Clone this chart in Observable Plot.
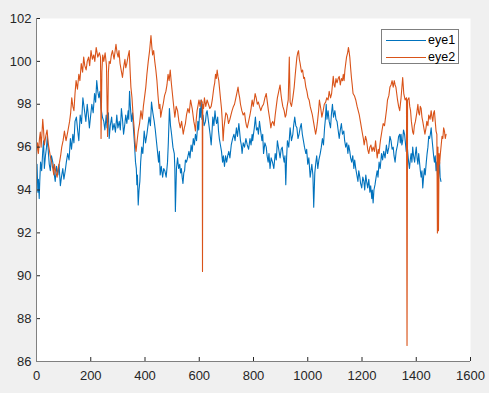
<!DOCTYPE html>
<html><head><meta charset="utf-8">
<script src="https://cdn.jsdelivr.net/npm/d3@7"></script>
<script src="https://cdn.jsdelivr.net/npm/@observablehq/plot@0.6"></script>
<style>
body{margin:0;background:#f0f0f0;}
#wrap{position:relative;width:489px;height:393px;overflow:hidden;}
.legend{position:absolute;left:381px;top:29px;width:76px;height:33px;background:#fff;border:1px solid #7f7f7f;font:12.5px "Liberation Sans",Arial,sans-serif;color:#000;}
.legend .row{position:absolute;left:0;height:16px;width:76px;}
.legend .sw{position:absolute;left:4px;top:8px;width:40px;height:1px;}
.legend .lab{position:absolute;left:46px;top:0;line-height:16px;}
</style></head>
<body><div id="wrap"></div>
<script>
const seriesNames = ["eye1","eye2"];
const seriesColors = ["#0072BD","#D95319"];
const xTicks = [0,200,400,600,800,1000,1200,1400,1600];
const yTicks = [86,88,90,92,94,96,98,100,102];

const eye1X = [0,5,10,15,23,29,37,44,51,60,69,79,88,97,106,115,125,134,142,152,161,171,177,187,195,204,214,222,230,238,248,257,262,268,277,286,296,305,313,321,329,338,343,350,358,365,370,375,381,388,397,407,415,424,434,442,450,456,465,473,483,490,498,508,512,520,528,534,540,546,553,562,570,578,586,595,602,607,614,623,629,637,644,650,658,664,671,678,686,693,701,709,718,728,737,746,752,758,767,777,787,795,800,807,815,822,831,837,847,854,861,870,880,888,898,906,913,919,925,935,945,952,960,968,976,984,993,1000,1009,1015,1022,1030,1037,1046,1054,1062,1068,1075,1084,1091,1100,1108,1116,1124,1133,1140,1148,1155,1162,1170,1177,1185,1192,1199,1207,1214,1221,1229,1236,1241,1248,1256,1263,1272,1280,1290,1299,1307,1315,1322,1331,1339,1344,1350,1357,1363,1369,1375,1381,1387,1394,1400,1406,1412,1418,1424,1430,1437,1443,1449,1455,1461,1467,1473,1480,1486,1491];
const eye1Y = [94.6,93.9,93.6,95.3,95.8,95.0,96.0,95.7,94.9,95.3,94.4,94.7,94.2,95.0,94.9,95.7,96.4,96.6,97.2,96.75,97.5,98.3,97.7,98.0,96.9,98.0,98.5,99.1,98.3,97.8,97.2,97.5,97.2,96.4,97.4,97.1,97.5,97.2,97.8,96.6,97.5,97.7,98.6,97.2,96.75,95.3,94.25,93.3,94.4,96.0,96.75,96.6,97.4,98.1,97.2,96.3,95.3,94.7,94.6,94.9,95.3,97.8,96.6,95.7,93.0,95.5,95.2,95.0,94.3,94.9,95.3,95.8,96.1,96.4,96.6,97.2,97.8,98.2,97.5,97.2,97.7,96.9,96.1,97.4,97.7,97.1,96.75,96.1,95.3,95.1,95.3,95.8,96.1,96.6,96.9,97.1,96.3,95.7,96.0,96.1,96.4,96.6,96.6,97.4,96.9,97.2,96.3,95.7,96.0,95.3,95.0,95.3,95.7,96.3,95.5,96.0,95.3,94.25,96.3,96.9,96.6,97.4,96.9,96.6,97.1,96.3,95.7,95.2,94.6,95.2,93.2,95.3,95.0,95.7,96.4,96.9,98.0,97.7,96.9,98.0,97.7,97.2,96.4,97.1,96.75,96.0,95.7,95.8,95.3,95.0,95.0,94.4,94.6,94.1,94.4,94.7,94.1,93.9,93.6,93.4,94.25,94.9,95.3,95.7,95.8,96.1,96.0,96.3,96.0,95.3,96.1,96.6,96.6,96.3,96.6,95.8,95.7,95.0,95.7,96.0,95.3,96.0,95.2,95.3,94.6,94.1,95.0,95.3,96.0,96.4,96.9,96.0,95.3,94.9,94.25,95.3,94.4];
// in-between readings (short-term wiggle of eye1)
const eye1MidX = [2,7,12,19,26,33,40,47,55,64,74,83,92,101,110,120,129,138,147,156,166,174,182,191,199,209,218,226,234,243,252,260,265,272,281,291,300,309,317,325,333,340,346,354,361,368,372,378,384,392,402,411,420,429,438,446,453,460,469,478,486,494,503,510,516,524,531,537,543,549,557,566,574,582,590,598,604,610,618,626,633,640,647,654,661,668,674,682,689,697,705,713,723,732,741,749,755,762,772,782,791,797,803,811,818,826,834,842,850,857,865,875,884,893,902,909,916,922,930,940,948,956,964,972,980,988,996,1004,1012,1019,1026,1033,1041,1050,1058,1065,1071,1079,1087,1095,1104,1112,1120,1128,1136,1144,1151,1158,1166,1173,1181,1188,1195,1203,1210,1217,1225,1232,1238,1244,1252,1259,1267,1276,1285,1294,1303,1311,1318,1326,1335,1341,1347,1353,1360,1366,1372,1378,1384,1390,1397,1403,1409,1415,1421,1427,1433,1440,1446,1452,1458,1464,1470,1476,1483,1488];
const eye1MidY = [95.2,94.5,94.4,94.9,96.3,95.6,96.5,95.2,95.6,94.9,95.1,95.2,94.6,94.5,95.3,95.4,95.9,96.2,97.4,96.3,97.1,98.0,97.2,97.5,97.4,97.6,98.1,98.6,98.6,97.4,96.8,96.9,97.6,97.0,96.8,96.7,96.9,96.8,97.3,97.0,97.1,97.3,97.9,97.6,96.2,95.0,94.7,94.0,95.3,95.7,96.2,97.0,97.0,97.6,96.8,95.8,95.8,95.1,95.0,94.6,96.2,97.0,96.0,95.0,95.0,95.0,94.8,94.6,94.8,95.4,95.5,95.5,95.8,96.1,96.3,96.8,97.4,97.3,97.0,97.6,97.3,96.6,96.7,97.0,97.3,97.4,96.4,95.8,95.6,95.6,95.6,95.5,96.4,96.3,96.5,96.7,96.1,96.2,96.4,95.9,96.1,96.3,96.9,96.8,96.6,96.8,96.6,96.2,95.6,95.7,95.5,95.0,95.4,95.9,95.9,95.6,95.6,95.5,96.0,96.3,97.0,97.0,96.4,96.9,96.6,96.0,95.9,95.5,94.9,94.7,94.8,95.6,95.4,96.0,96.1,97.3,97.3,97.2,97.5,97.4,97.3,96.8,96.8,96.6,96.3,96.2,96.1,95.5,95.6,95.4,94.7,94.9,94.3,94.6,94.0,94.4,94.5,94.2,94.0,94.0,94.6,94.6,95.0,95.4,95.5,95.7,96.5,95.9,95.6,95.8,96.5,96.2,96.1,96.8,96.2,96.2,95.3,95.4,95.3,95.6,95.7,95.5,95.7,94.9,94.9,94.6,94.7,95.7,96.5,96.6,96.4,95.6,95.6,95.3,94.8,94.6];

const eye2X = [0,4,11,17,23,29,39,48,56,64,69,76,85,93,103,109,122,130,138,146,156,165,174,183,192,201,211,220,232,236,238,241,244,253,258,262,265,272,280,293,301,308,317,326,333,342,348,356,363,367,375,385,394,403,412,422,428,436,444,452,458,467,477,485,493,501,510,520,530,541,549,558,568,574,580,586,592,599,607,611,612,613,619,629,639,648,654,660,666,672,678,685,688,694,703,713,721,730,740,746,752,762,771,777,787,795,803,810,818,827,837,847,855,864,871,880,888,898,904,913,920,928,932,935,945,954,960,966,972,981,988,997,1005,1013,1021,1029,1036,1043,1052,1061,1070,1079,1088,1094,1100,1108,1116,1124,1131,1137,1143,1150,1155,1161,1167,1177,1186,1194,1202,1208,1217,1225,1233,1241,1250,1256,1263,1269,1278,1287,1294,1303,1311,1319,1325,1331,1339,1344,1350,1354,1359,1364,1366,1368,1373,1379,1385,1390,1397,1406,1412,1418,1424,1432,1439,1446,1455,1461,1467,1473,1476,1478,1480,1482,1484,1486,1492,1498,1504,1510];
const eye2Y = [95.6,96.2,96.4,96.0,97.3,96.1,96.8,95.8,95.3,94.7,95.0,94.6,95.3,96.0,96.75,96.3,97.2,98.3,97.7,99.1,99.4,99.9,100.2,99.6,100.2,100.5,100.3,100.65,100.4,100.2,96.4,99.5,100.3,100.4,99.8,96.5,99.5,99.9,100.5,100.8,100.2,99.9,99.25,100.1,99.9,100.5,98.8,97.5,96.3,95.8,96.75,97.7,97.9,98.8,100.0,101.2,100.3,100.0,99.1,97.8,97.4,98.0,98.6,99.4,99.6,98.5,97.4,97.7,96.9,96.6,97.1,97.8,98.2,97.8,97.2,96.75,97.7,98.2,98.2,98.1,90.2,98.0,98.3,98.2,97.8,98.2,98.8,99.4,99.6,99.1,98.3,97.2,96.3,97.2,97.5,97.3,97.7,98.0,98.6,98.5,98.0,97.5,97.2,96.9,97.5,98.2,98.2,98.3,98.1,97.7,98.0,98.5,97.7,96.9,97.2,97.5,98.3,98.9,98.2,97.7,97.5,98.2,100.2,98.1,98.3,99.4,100.2,100.5,99.9,99.6,99.25,98.6,98.2,97.7,97.2,96.6,97.2,98.2,97.4,98.0,98.3,98.6,98.5,99.3,98.8,99.0,99.3,99.2,99.4,99.6,100.2,100.65,100.2,99.25,98.5,98.2,97.7,97.2,96.6,96.1,96.3,95.7,96.1,96.0,96.3,95.5,95.7,96.4,97.1,97.4,98.2,98.8,99.1,99.1,98.8,98.2,97.7,98.3,99.25,98.5,98.2,98.3,86.75,98.2,98.3,97.7,96.9,96.6,97.2,98.0,97.5,97.8,97.2,96.6,97.2,97.5,97.7,97.2,97.7,96.75,96.6,92.0,96.0,92.1,95.7,95.2,96.1,96.4,96.75,96.6];
// in-between readings (short-term wiggle of eye2)
const eye2MidX = [2,7,14,20,26,34,43,52,60,66,72,80,89,98,106,115,126,134,142,151,160,170,178,187,196,206,215,226,248,268,276,286,297,304,312,321,329,337,345,352,360,365,371,380,390,398,407,417,425,432,440,448,455,462,472,481,489,497,505,515,525,535,545,553,563,571,577,583,589,595,603,616,624,634,644,651,657,663,669,675,682,691,698,708,717,726,735,743,749,757,767,774,782,791,799,806,814,822,832,842,851,860,867,876,884,893,901,908,917,924,940,950,957,963,969,977,985,993,1001,1009,1017,1025,1032,1040,1048,1057,1066,1075,1084,1091,1097,1104,1112,1120,1128,1134,1140,1147,1153,1158,1164,1172,1182,1190,1198,1205,1213,1221,1229,1237,1246,1253,1260,1266,1274,1283,1291,1299,1307,1315,1322,1328,1335,1376,1382,1387,1393,1402,1409,1415,1421,1428,1436,1443,1451,1458,1464,1470,1489,1495,1501,1507];
const eye2MidY = [96.0,95.7,96.7,96.6,96.8,96.5,96.2,95.5,95.0,95.2,94.8,95.0,95.6,96.3,96.5,96.7,97.6,97.9,98.5,98.7,99.1,99.5,99.8,100.0,99.8,100.1,100.0,100.2,100.0,100.0,100.3,100.1,100.4,100.5,99.6,99.7,99.7,100.2,99.6,98.3,96.9,96.0,96.3,97.1,97.3,98.3,99.4,100.5,100.7,100.5,99.6,98.4,98.0,97.7,98.4,98.9,99.1,99.0,98.0,97.9,97.2,97.2,96.9,97.5,97.6,98.0,97.5,97.0,97.3,97.9,97.9,97.8,97.9,98.0,97.9,98.5,99.0,99.2,99.3,98.7,97.8,96.9,97.6,97.1,97.5,97.9,98.3,98.8,98.3,97.7,97.6,97.0,97.2,97.8,97.9,98.5,98.0,97.9,97.9,98.3,98.1,97.3,97.1,97.0,97.9,98.6,98.5,97.9,97.4,97.9,97.9,98.8,99.8,100.4,100.1,99.5,99.2,98.8,98.3,97.9,97.5,96.9,96.8,97.7,97.8,97.7,98.1,98.2,98.3,98.9,98.9,99.2,99.2,98.9,99.1,99.1,99.9,100.4,100.4,99.7,98.9,98.4,97.9,97.5,96.9,96.4,96.5,95.9,96.0,95.8,95.8,95.9,95.9,96.1,96.8,97.0,97.8,98.4,98.9,98.8,98.9,98.5,97.9,97.9,97.2,96.7,97.0,97.6,97.6,97.9,97.4,96.9,96.9,97.0,97.3,97.4,97.6,97.2,95.7,96.5,96.9,96.4];

const toRows = (xs, ys, mx, my) =>
  xs.map((x, i) => ({x, y: ys[i]}))
    .concat(mx.map((x, i) => ({x, y: my[i]})))
    .sort((a, b) => a.x - b.x);
const eye1 = toRows(eye1X, eye1Y, eye1MidX, eye1MidY);
const eye2 = toRows(eye2X, eye2Y, eye2MidX, eye2MidY);

const W = 489, H = 393, mL = 36, mR = 19, mT = 18, mB = 32;
const innerW = W - mL - mR, innerH = H - mT - mB;
const axisColor = "#808080", textColor = "#262626", tickLen = 4;

const chart = Plot.plot({
  width: W, height: H,
  marginLeft: mL, marginRight: mR, marginTop: mT, marginBottom: mB,
  style: {background: "transparent", fontFamily: "'Liberation Sans', Arial, sans-serif", fontSize: "13px", color: textColor},
  x: {domain: [0, 1600]},
  y: {domain: [86, 102]},
  marks: [
    Plot.frame({fill: "white", stroke: null}),
    Plot.line(eye1, {x: "x", y: "y", stroke: seriesColors[0], strokeWidth: 1.1}),
    Plot.line(eye2, {x: "x", y: "y", stroke: seriesColors[1], strokeWidth: 1.1}),
    Plot.tickX(xTicks, {x: d => d, stroke: textColor, insetTop: innerH - tickLen}),
    Plot.tickY(yTicks, {y: d => d, stroke: textColor, insetRight: innerW - tickLen}),
    Plot.ruleX([0], {stroke: axisColor}),
    Plot.ruleY([86], {stroke: axisColor}),
    Plot.axisX(xTicks, {tickSize: 0, tickPadding: 9, label: null, fill: textColor, tickFormat: d => String(d)}),
    Plot.axisY(yTicks, {tickSize: 0, tickPadding: 5, label: null, fill: textColor, tickFormat: d => String(d)})
  ]
});
const wrap = document.getElementById("wrap");
wrap.appendChild(chart);

const legend = document.createElement("div");
legend.className = "legend";
seriesNames.forEach((name, i) => {
  const row = document.createElement("div");
  row.className = "row";
  row.style.top = (2 + i * 17) + "px";
  const sw = document.createElement("div");
  sw.className = "sw";
  sw.style.background = seriesColors[i];
  const lab = document.createElement("div");
  lab.className = "lab";
  lab.textContent = name;
  row.appendChild(sw); row.appendChild(lab);
  legend.appendChild(row);
});
wrap.appendChild(legend);
</script>
</body></html>
